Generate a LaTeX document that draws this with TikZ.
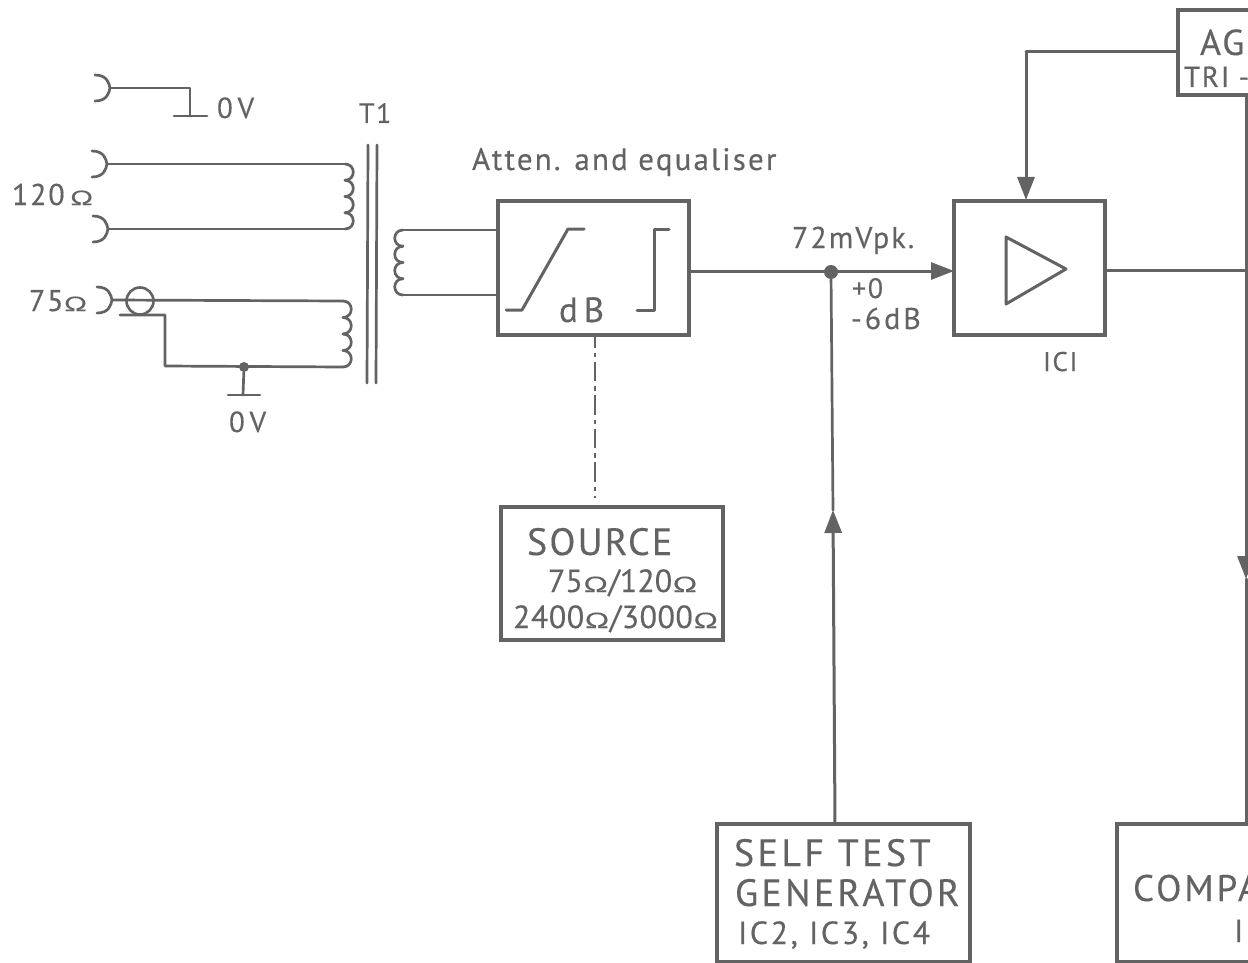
\documentclass[tikz,border=0pt]{standalone}
\usepackage{fontspec}
\setmainfont[LetterSpace=6,FakeBold=0.3]{PT Sans}
\usetikzlibrary{arrows.meta}
\definecolor{ink}{HTML}{636363}
\newcommand{\txtsz}[1]{\fontsize{#1}{#1}\selectfont}
\newcommand{\spc}[1]{\addfontfeature{LetterSpace=#1}}
\newcommand{\ohm}{\scalebox{1}[0.68]{Ω}}
\tikzset{
  x=1pt,y=-1pt,
  wire/.style={draw=ink,line width=3pt,line join=round,line cap=round},
  thin wire/.style={draw=ink,line width=2.7pt,line join=round,line cap=round},
  arrowed/.style={wire,-{Triangle[length=23pt,width=17pt,color=ink]}},
  boxnode/.style={draw=ink,line width=3.4pt,rectangle,inner sep=0pt,outer sep=0pt,fill=none},
  lbl/.style={text=ink,anchor=base west,inner sep=0pt,outer sep=0pt},
  junction/.style={circle,fill=ink,inner sep=0pt,minimum size=#1},
}
\newcommand{\coilR}[3]{% x, top y, bottom y : humps to the right
  \pgfmathsetmacro{\hh}{(#3-#2)/4}
  \foreach \i in {0,1,2,3}{
    \pgfmathsetmacro{\ya}{#2+\i*\hh}
    \pgfmathsetmacro{\yb}{#2+(\i+1)*\hh}
    \draw[thin wire] (#1,\ya) .. controls (#1+11,\ya) and (#1+11,\yb) .. (#1,\yb);
  }
}
\newcommand{\coilL}[3]{%
  \pgfmathsetmacro{\hh}{(#3-#2)/4}
  \foreach \i in {0,1,2,3}{
    \pgfmathsetmacro{\ya}{#2+\i*\hh}
    \pgfmathsetmacro{\yb}{#2+(\i+1)*\hh}
    \draw[thin wire] (#1,\ya) .. controls (#1-11,\ya) and (#1-11,\yb) .. (#1,\yb);
  }
}
\newcommand{\jack}[3]{% name, x of tip, y
  \coordinate (#1) at (#2,#3);
  \draw[thin wire] (#2-15,#3-13) .. controls (#2-3,#3-13) and (#2-1,#3-5) .. (#2,#3)
     .. controls (#2-1,#3+5) and (#2-3,#3+13) .. (#2-15,#3+13);
}
\begin{document}
\begin{tikzpicture}
\useasboundingbox (0,0) rectangle (1248,963);
\fill[white] (0,0) rectangle (1248,963);
\begin{scope}
\clip (0,0) rectangle (1248,963);

% jacks
\jack{jtop}{110}{88}
\jack{ja}{107}{164}
\jack{jb}{108}{229}
\jack{jc}{112}{300}

% top ground
\coordinate (gt) at (190,88);
\coordinate (gtb) at (190,116);
\coordinate (gtl) at (174,116);
\coordinate (gtr) at (207,116);
\draw[thin wire] (jtop) -- (gt) -- (gtb);
\draw[thin wire] (gtl) -- (gtr);
\node[lbl] (ovtop) at (217,118) {\txtsz{29}0\,V};

% 120 ohm winding
\coordinate (cat) at (345,164);
\coordinate (cab) at (345,229);
\draw[thin wire] (ja) -- (cat);
\draw[thin wire] (jb) -- (cab);
\coilR{345}{164}{229}
\node[lbl] (ohmA) at (12,205) {\txtsz{30}120\,\ohm};

% 75 ohm winding
\coordinate (cbt) at (343,301);
\coordinate (cbb) at (343,367);
\node[circle,draw=ink,line width=2.6pt,minimum size=27pt,inner sep=0pt] (coax) at (140,301) {};
\draw[thin wire] (jc) -- (cbt);
\coilR{343}{301}{367}
\coordinate (shl) at (120,315);
\coordinate (shr) at (165,315);
\coordinate (shb) at (165,366);
\draw[thin wire] (shl) -- (shr) -- (shb) -- (cbb);
\node[junction=10pt] (gdot) at (244,367) {};
\coordinate (gb) at (243,395);
\coordinate (gbl) at (228,395);
\coordinate (gbr) at (260,395);
\draw[thin wire] (gdot) -- (gb);
\draw[thin wire] (gbl) -- (gbr);
\node[lbl] (ovbot) at (229,432) {\txtsz{29}0\,V};
\node[lbl] (ohmB) at (29,311) {\txtsz{30}75\ohm};

% T1 core
\coordinate (k1t) at (368,145);
\coordinate (k1b) at (367,383);
\coordinate (k2t) at (377,145);
\coordinate (k2b) at (376,383);
\draw[thin wire] (k1t) -- (k1b);
\draw[thin wire] (k2t) -- (k2b);
\node[lbl] (tone) at (359,123) {\txtsz{28}T1};

% secondary
\coordinate (sa) at (403,230);
\coordinate (sb) at (403,295);
\coilL{403}{230}{295}

% attenuator
\node[boxnode,minimum width=191pt,minimum height=134pt] (atten) at (593.5,268) {};
\coordinate (ain) at (atten.west |- sa);
\coordinate (bin) at (atten.west |- sb);
\draw[thin wire] (sa) -- (ain);
\draw[thin wire] (sb) -- (bin);
\coordinate (p1) at (506,310);\coordinate (p2) at (522,310);\coordinate (p3) at (568,229);\coordinate (p4) at (584,229);
\draw[wire] (p1) -- (p2) -- (p3) -- (p4);
\coordinate (q1) at (637,310);\coordinate (q2) at (654,310);\coordinate (q3) at (654,229);\coordinate (q4) at (669,229);
\draw[wire] (q1) -- (q2) -- (q3) -- (q4);
\node[lbl] (db) at (559,322) {\txtsz{35}d\,B};
\node[lbl] (attenlbl) at (472,170) {\txtsz{31}\spc{7}Atten. and equaliser};

% IC1
\node[boxnode,minimum width=151pt,minimum height=134pt] (ic) at (1029.5,268) {};
\coordinate (t1) at (1006,237);\coordinate (t2) at (1066,269);\coordinate (t3) at (1006,304);
\draw[wire] (t1) -- (t2) -- (t3) -- cycle;
\node[lbl] (iclbl) at (1043,371) {\txtsz{27}ICI};

% main signal
\coordinate (aout) at (atten.east |- 0,271);
\coordinate (iin) at (ic.west |- 0,271);
\draw[arrowed] (aout) -- (iin);
\node[junction=14pt] (jn) at (831,272) {};
\node[lbl] (mv) at (792,248) {\txtsz{30}\spc{7}72mVpk.};
\node[lbl] (pz) at (852,298) {\txtsz{28}+0};
\node[lbl] (msix) at (851,329) {\txtsz{30}\spc{10}-6dB};
\coordinate (iout) at (ic.east |- 0,270);
\coordinate (rt) at (1248,270);
\draw[wire] (iout) -- (rt);

% AGC
\node[boxnode,minimum width=140pt,minimum height=85pt,anchor=north west] (agc) at (1178,10) {};
\node[lbl] (agctxt) at (1200,55) {\txtsz{36}AG};
\node[lbl] (tri) at (1184,87) {\txtsz{29}TRI -};
\coordinate (agl) at (agc.west |- 0,52);
\coordinate (agc2) at (1026,52);
\coordinate (icin) at (1026,200);
\draw[wire] (agl) -- (agc2);
\draw[arrowed] (agc2) -- (icin);

% comparator
\node[boxnode,minimum width=220pt,minimum height=138pt,anchor=north west] (comp) at (1117,824) {};
\node[lbl] (comptxt) at (1133,901) {\txtsz{37}\spc{8}COMPA};
\node[lbl] (compi) at (1234,942) {\txtsz{32}I};
\coordinate (vt) at (1246,95);
\coordinate (vb) at (1246,824);
\coordinate (vm) at (1246,579);
\draw[arrowed] (vt) -- (vm);
\draw[wire] (vm) -- (vb);

% source
\node[boxnode,minimum width=222pt,minimum height=133pt,anchor=north west] (src) at (501,507) {};
\node[lbl] (st1) at (527,555) {\txtsz{38}SOURCE};
\node[lbl] (st2) at (548,592) {\txtsz{32}\spc{0}75\ohm/120\ohm};
\node[lbl] (st3) at (513,628) {\txtsz{32}\spc{1.5}2400\ohm/3000\ohm};
\coordinate (dashend) at (595,498);
\coordinate (dashstart) at (595,335);
\draw[draw=ink,line width=2.8pt,dash pattern=on 19.5pt off 5pt on 4.5pt off 4.5pt,dash phase=7pt] (dashstart) -- (dashend);

% self test
\node[boxnode,minimum width=253pt,minimum height=138pt,anchor=north west] (self) at (717,824) {};
\node[lbl] (se1) at (734,866) {\txtsz{38}\spc{9}SELF TEST};
\node[lbl] (se2) at (735,906) {\txtsz{38}\spc{8.5}GENERATOR};
\node[lbl] (se3) at (738,944) {\txtsz{32}\spc{8}IC2, IC3, IC4};
\coordinate (selftop) at (835,824);
\coordinate (arrowtip) at (833,510);
\draw[arrowed] (selftop) -- (arrowtip);
\draw[thin wire] (arrowtip) -- (jn);
\end{scope}
\end{tikzpicture}
\end{document}
